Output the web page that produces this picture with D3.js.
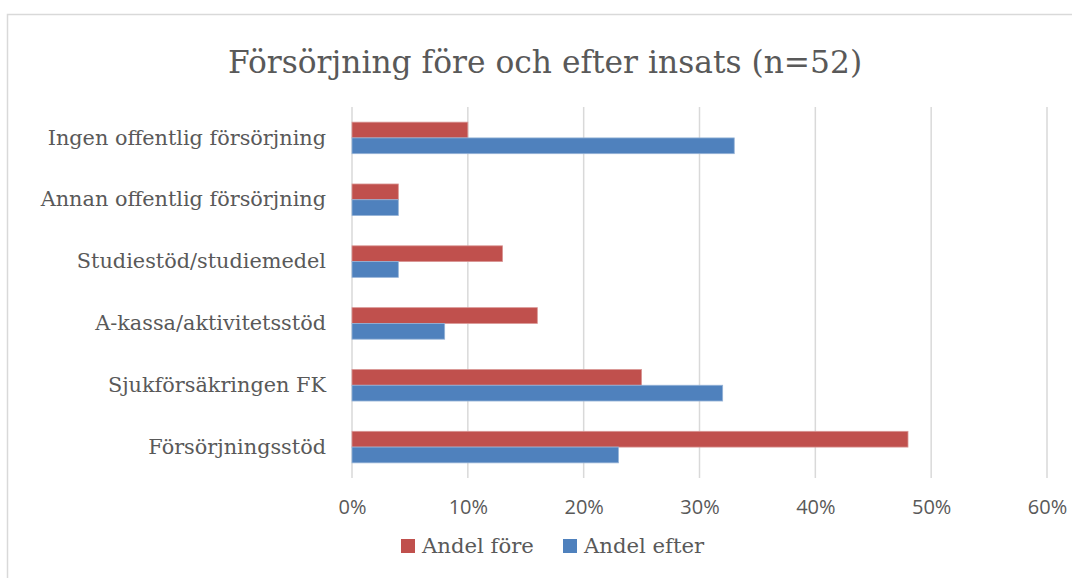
<!DOCTYPE html>
<html>
<head>
<meta charset="utf-8">
<script src="https://cdn.jsdelivr.net/npm/d3@7"></script>
<style>
  body { margin: 0; background: #fff; }
  svg { display: block; }
</style>
</head>
<body>
<div id="chart"></div>
<script>
// data (percent)
var categories = ["Ingen offentlig försörjning", "Annan offentlig försörjning", "Studiestöd/studiemedel",
  "A-kassa/aktivitetsstöd", "Sjukförsäkringen FK", "Försörjningsstöd"];
var andelFore = [10, 4, 13, 16, 25, 48];
var andelEfter = [33, 4, 4, 8, 32, 23];
var seriesNames = ["Andel före", "Andel efter"];
var seriesColors = ["#C0504D", "#4F81BD"];
var strokeColors = ["#D99694", "#95B3D7"];
var xTicks = [0, 10, 20, 30, 40, 50, 60];

var W = 1072, H = 578;
var serif = "'DejaVu Serif', 'Liberation Serif', serif";
var textColor = "#595959";

var svg = d3.select("#chart").append("svg")
  .attr("width", W)
  .attr("height", H);

// chart border (runs off the right and bottom)
svg.append("rect")
  .attr("x", 7.5).attr("y", 14.5)
  .attr("width", W + 20).attr("height", H + 20)
  .attr("fill", "#fff")
  .attr("stroke", "#D9D9D9")
  .attr("stroke-width", 1.5);

svg.append("text")
  .attr("x", 545).attr("y", 73)
  .attr("text-anchor", "middle")
  .attr("font-family", serif)
  .attr("font-size", 31.3)
  .attr("fill", textColor)
  .text("Försörjning före och efter insats (n=52)");

var x = d3.scaleLinear().domain([0, 60]).range([352, 1047]);
var y = d3.scaleBand().domain(categories).range([107, 478]).paddingInner(0.49).paddingOuter(0.245);
var ySub = d3.scaleBand().domain([0, 1]).range([0, y.bandwidth()]);

// gridlines
svg.append("g").selectAll("line")
  .data(xTicks)
  .enter().append("line")
  .attr("x1", function (d) { return x(d); })
  .attr("x2", function (d) { return x(d); })
  .attr("y1", 107).attr("y2", 478)
  .attr("stroke", "#D9D9D9")
  .attr("stroke-width", 1.5);

// bars
var rows = categories.map(function (c, i) { return { cat: c, vals: [andelFore[i], andelEfter[i]] }; });
var grp = svg.append("g").selectAll("g")
  .data(rows)
  .enter().append("g")
  .attr("transform", function (d) { return "translate(0," + y(d.cat) + ")"; });

grp.selectAll("rect")
  .data(function (d) { return d.vals; })
  .enter().append("rect")
  .attr("x", x(0))
  .attr("y", function (d, i) { return ySub(i); })
  .attr("width", function (d) { return x(d) - x(0); })
  .attr("height", ySub.bandwidth())
  .attr("fill", function (d, i) { return seriesColors[i]; })
  .attr("stroke", function (d, i) { return strokeColors[i]; })
  .attr("stroke-width", 0.8);

// category labels
var yAxis = svg.append("g")
  .attr("transform", "translate(326,0)")
  .call(d3.axisLeft(y).tickSize(0).tickPadding(0));
yAxis.select(".domain").remove();
yAxis.selectAll("text")
  .attr("font-family", serif)
  .attr("font-size", 20.8)
  .attr("fill", textColor);

// x axis labels
var xAxis = svg.append("g")
  .attr("transform", "translate(0,500)")
  .call(d3.axisBottom(x).tickValues(xTicks).tickSize(0).tickPadding(0)
    .tickFormat(function (d) { return d + "%"; }));
xAxis.select(".domain").remove();
xAxis.selectAll("text")
  .attr("font-family", "'Open Sans', sans-serif")
  .attr("font-size", 20)
  .attr("fill", textColor);

// legend
var legendX = [401, 563];
var legend = svg.append("g").selectAll("g")
  .data(seriesNames)
  .enter().append("g")
  .attr("transform", function (d, i) { return "translate(" + legendX[i] + ",539)"; });
legend.append("rect")
  .attr("width", 14).attr("height", 14)
  .attr("fill", function (d, i) { return seriesColors[i]; });
legend.append("text")
  .attr("x", 21).attr("y", 14)
  .attr("font-family", serif)
  .attr("font-size", 21.2)
  .attr("fill", textColor)
  .text(function (d) { return d; });
</script>
</body>
</html>
